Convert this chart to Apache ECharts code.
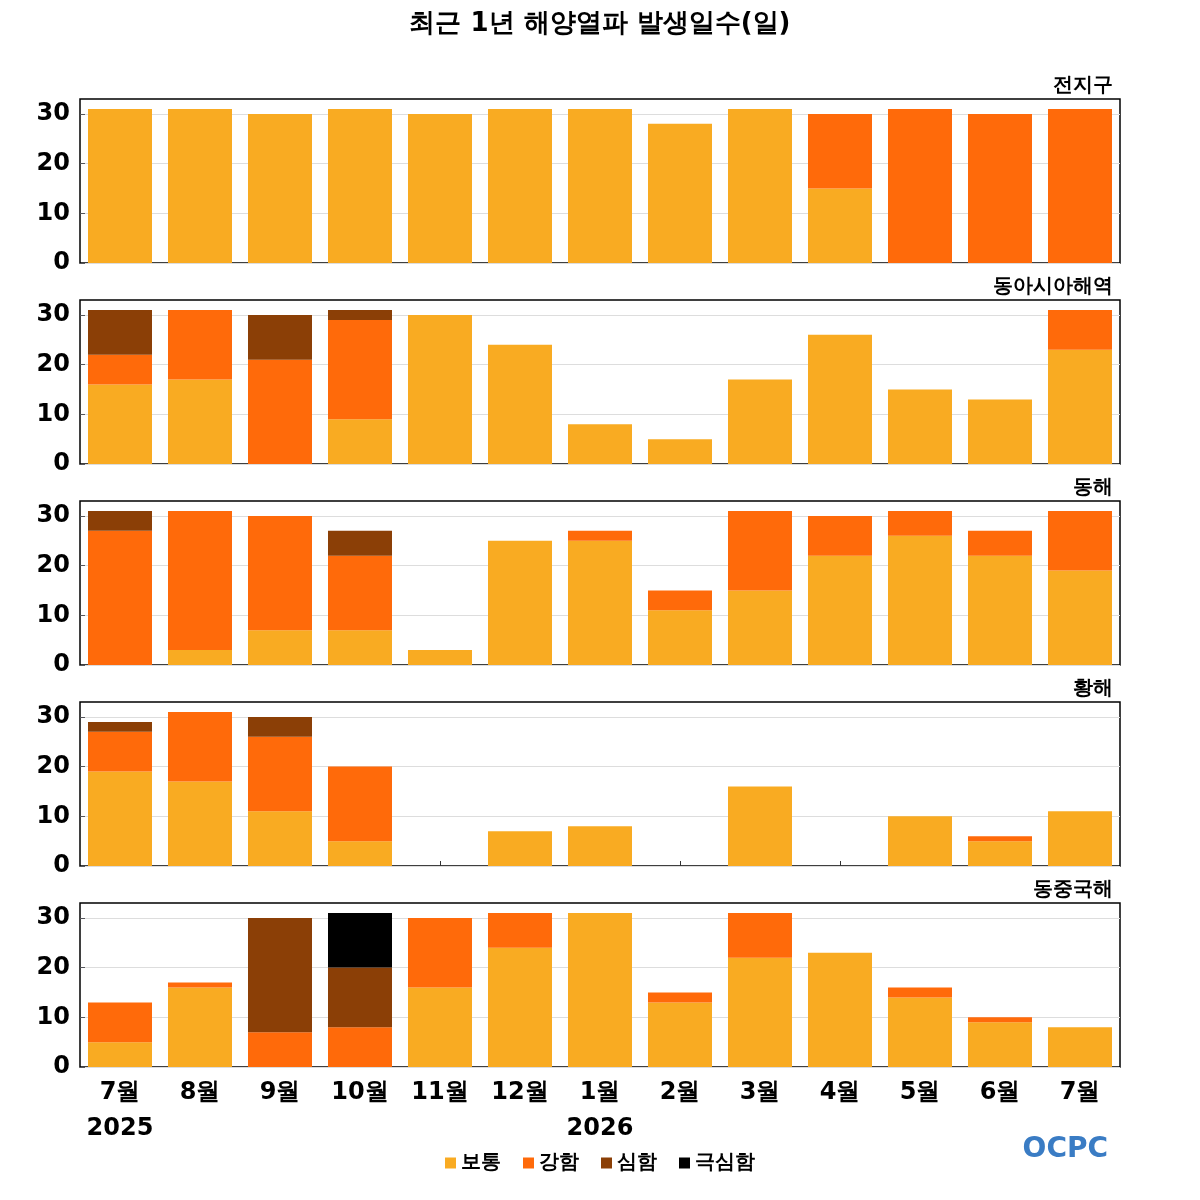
<!DOCTYPE html>
<html><head><meta charset="utf-8">
<script src="https://cdn.jsdelivr.net/npm/echarts@6/dist/echarts.min.js"></script>
<style>body{margin:0}#c{width:1200px;height:1200px}</style></head>
<body><div id="c"></div>
<script>
const months=['7월','8월','9월','10월','11월','12월','1월','2월','3월','4월','5월','6월','7월'];
const years=['2025','','','','','','2026','','','','','',''];
const regions=['전지구','동아시아해역','동해','황해','동중국해'];
const levels=['보통','강함','심함','극심함'];
const colors=['#F9AB22','#FF6A0A','#8B3F06','#000000'];
const normal=[
 [31,31,30,31,30,31,31,28,31,15,0,0,0],
 [16,17,0,9,30,24,8,5,17,26,15,13,23],
 [0,3,7,7,3,25,25,11,15,22,26,22,19],
 [19,17,11,5,0,7,8,0,16,0,10,5,11],
 [5,16,0,0,16,24,31,13,22,23,14,9,8]];
const strong=[
 [0,0,0,0,0,0,0,0,0,15,31,30,31],
 [6,14,21,20,0,0,0,0,0,0,0,0,8],
 [27,28,23,15,0,0,2,4,16,8,5,5,12],
 [8,14,15,15,0,0,0,0,0,0,0,1,0],
 [8,1,7,8,14,7,0,2,9,0,2,1,0]];
const severe=[
 [0,0,0,0,0,0,0,0,0,0,0,0,0],
 [9,0,9,2,0,0,0,0,0,0,0,0,0],
 [4,0,0,5,0,0,0,0,0,0,0,0,0],
 [2,0,4,0,0,0,0,0,0,0,0,0,0],
 [0,0,23,12,0,0,0,0,0,0,0,0,0]];
const extreme=[
 [0,0,0,0,0,0,0,0,0,0,0,0,0],
 [0,0,0,0,0,0,0,0,0,0,0,0,0],
 [0,0,0,0,0,0,0,0,0,0,0,0,0],
 [0,0,0,0,0,0,0,0,0,0,0,0,0],
 [0,0,0,11,0,0,0,0,0,0,0,0,0]];
const yTicks=[0,10,20,30];
const data=[normal,strong,severe,extreme];
const F='DejaVu Sans';
const grid=[],xAxis=[],yAxis=[],series=[],title=[{text:'최근 1년 해양열파 발생일수(일)',left:'center',top:6,textStyle:{fontSize:26,fontWeight:'bold',fontFamily:F,color:'#000'}}];
regions.forEach((r,i)=>{
 const top=99+i*201;
 grid.push({left:80,width:1040,top:top,height:164,show:true,borderColor:'#000',borderWidth:1.5,backgroundColor:'#fff'});
 title.push({text:r,right:82,top:top-28,textStyle:{fontSize:20,fontWeight:'bold',fontFamily:F,color:'#000'}});
 const last=i===regions.length-1;
 xAxis.push({type:'category',gridIndex:i,data:months.map((m,k)=>m+'\n'+years[k]),
  axisLine:{show:false},axisTick:{show:true,inside:true,alignWithLabel:true,interval:0,length:5,lineStyle:{color:'#333'}},
  axisLabel:{show:last,interval:0,fontSize:24,fontWeight:'bold',fontFamily:F,color:'#000',lineHeight:36,margin:8}});
 yAxis.push({type:'value',gridIndex:i,min:0,max:33,interval:10,
  axisLabel:{fontSize:24,fontWeight:'bold',fontFamily:F,color:'#000',customValues:yTicks,margin:10},
  axisTick:{show:true,inside:true,length:5,customValues:yTicks},
  splitLine:{show:true,lineStyle:{color:'#ddd'},customValues:yTicks},axisLine:{show:false}});
 levels.forEach((l,j)=>{
  series.push({name:l,type:'bar',stack:'s'+i,xAxisIndex:i,yAxisIndex:i,barCategoryGap:'20%',
   data:data[j][i],itemStyle:{color:colors[j]}});
 });
});
const chart=echarts.init(document.getElementById('c'));
chart.setOption({animation:false,backgroundColor:'#fff',title,grid,xAxis,yAxis,series,
 legend:{data:levels,bottom:22,left:'center',icon:'rect',itemWidth:11,itemHeight:11,itemGap:22,
  textStyle:{fontSize:20,fontWeight:'bold',fontFamily:F,color:'#000'}},
 graphic:[{type:'text',right:92,bottom:36,style:{text:'OCPC',fontSize:28,fontWeight:'bold',fontFamily:F,fill:'#3a7cc4'}}]
});
</script></body></html>
